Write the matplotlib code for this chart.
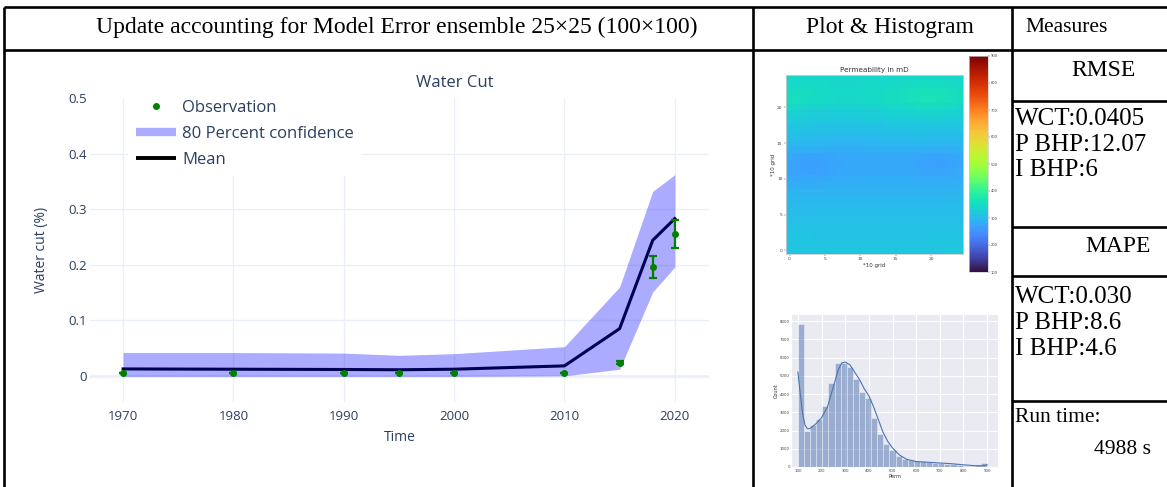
import numpy as np
import matplotlib
matplotlib.use("Agg")
import matplotlib.pyplot as plt
from matplotlib.lines import Line2D

W, H, DPI = 1167, 487, 100

# ---------------- water cut history ----------------
years = [1970, 1980, 1990, 1995, 2000, 2010, 2015, 2018, 2020]
obs_wct = [0.005, 0.005, 0.005, 0.005, 0.005, 0.005, 0.024, 0.196, 0.255]
obs_err = [0.0005, 0.0005, 0.0005, 0.0005, 0.0005, 0.0005, 0.0024, 0.0196, 0.0255]
mean_wct = [0.0125, 0.012, 0.0115, 0.011, 0.012, 0.018, 0.085, 0.244, 0.283]
p90_wct = [0.042, 0.042, 0.041, 0.037, 0.040, 0.0525, 0.160, 0.332, 0.362]
p10_wct = [-0.001, -0.001, -0.001, -0.001, -0.001, 0.0, 0.012, 0.151, 0.196]
year_ticks = [1970, 1980, 1990, 2000, 2010, 2020]
wct_ticks = [0, 0.1, 0.2, 0.3, 0.4, 0.5]
wct_tick_labels = ["0", "0.1", "0.2", "0.3", "0.4", "0.5"]

# ---------------- permeability field (mD), top row first ----------------
perm_field = [
    [341,341,342,342,342,341,341,340,340,340,341,341,342,342,342,343,343,344,344,345,345,344,344,343,343],
    [345,346,346,345,345,344,343,343,343,343,344,344,345,345,346,347,348,349,350,351,351,350,349,348,347],
    [353,353,352,350,348,347,346,345,345,345,346,347,348,349,351,353,355,357,359,361,361,359,357,354,352],
    [355,354,352,349,347,345,344,343,343,343,344,345,346,348,350,353,356,359,362,364,364,362,359,355,352],
    [345,344,342,340,338,337,336,335,335,335,336,337,338,340,342,344,346,348,350,351,351,350,348,345,343],
    [332,331,330,328,327,326,325,325,325,325,326,327,328,329,331,332,333,334,335,336,336,335,334,333,332],
    [324,323,322,321,320,319,318,318,318,318,319,320,320,321,322,323,324,325,325,326,326,325,324,323,323],
    [316,315,314,313,312,311,311,310,310,310,311,311,312,312,313,314,314,315,315,316,316,315,315,314,314],
    [308,307,306,305,304,303,302,302,302,302,302,303,303,304,304,305,305,306,306,306,306,306,305,305,305],
    [299,298,297,296,295,294,294,293,293,293,293,294,294,295,295,296,296,296,297,297,296,296,296,296,296],
    [288,287,286,285,285,284,284,284,284,284,284,285,285,285,286,286,286,286,286,285,285,285,286,287,288],
    [276,274,272,271,271,272,274,276,277,277,277,277,277,277,278,278,278,277,276,274,272,271,272,275,278],
    [272,269,267,266,267,269,272,274,275,275,275,275,275,276,276,276,276,275,273,271,269,268,270,273,276],
    [274,271,269,268,269,271,274,276,277,277,277,277,278,278,278,278,278,277,276,274,272,272,273,276,279],
    [280,278,277,276,277,278,280,281,282,282,282,282,282,283,283,283,283,282,281,280,279,279,280,282,284],
    [286,285,284,284,284,285,286,286,287,287,287,287,287,287,287,287,287,286,286,285,285,285,286,287,288],
    [293,292,292,291,291,292,292,293,293,293,293,293,293,293,293,293,292,292,292,292,292,292,293,293,294],
    [298,297,297,297,297,297,297,297,298,298,298,298,298,298,297,297,297,297,297,297,297,297,298,298,299],
    [302,302,301,301,301,301,301,302,302,302,302,302,302,302,301,301,301,301,301,301,301,302,302,302,303],
    [305,305,305,305,305,305,305,305,305,305,305,305,305,305,305,305,305,304,304,304,305,305,305,306,306],
    [308,308,307,307,307,307,307,307,307,307,307,307,307,307,307,307,307,307,307,307,307,307,308,308,308],
    [311,311,311,311,310,310,310,310,310,310,310,310,310,310,310,310,310,310,310,310,310,311,311,311,312],
    [313,313,313,313,312,312,312,312,312,312,312,312,312,312,312,312,312,312,312,312,313,313,313,313,314],
    [316,316,316,315,315,315,315,315,315,315,315,315,315,315,315,315,315,315,315,315,315,316,316,316,317],
    [318,318,318,318,318,318,318,318,318,318,318,318,318,318,318,318,318,318,318,318,318,318,319,319,319],
]

# ---------------- ensemble permeability histogram ----------------
perm_bin_lo, perm_bin_hi = 100, 900
perm_counts = [7850, 1970, 2280, 2650, 3340, 4600, 5720, 5720, 5480, 4840, 4110,
               3780, 2700, 1830, 1280, 950, 600, 420, 365, 310, 310, 255, 220,
               200, 180, 146, 110, 75, 60, 90, 220]
kde_perm = [100, 110, 120, 130, 140, 150, 160, 175, 200, 225, 250, 270, 285, 300,
            320, 340, 360, 380, 400, 420, 440, 460, 480, 500, 530, 560, 600, 650,
            700, 750, 800, 850, 880, 900]
kde_count = [5200, 4000, 2900, 2300, 2100, 2100, 2200, 2350, 2700, 3300, 4400, 5300,
             5700, 5750, 5600, 5200, 4800, 4300, 3900, 3300, 2600, 1900, 1400, 1050,
             650, 420, 300, 260, 220, 180, 120, 70, 70, 120]

# ---------------- measures column ----------------
measure_head = "Measures"
rmse_lines = ["WCT:0.0405", "P BHP:12.07", "I BHP:6"]
mape_lines = ["WCT:0.030", "P BHP:8.6", "I BHP:4.6"]
run_time_text = ["Run time:", "4988 s"]

fig = plt.figure(figsize=(W / DPI, H / DPI), dpi=DPI)


def px_axes(x0, y0, x1, y1, **kw):
    return fig.add_axes([x0 / W, 1 - y1 / H, (x1 - x0) / W, (y1 - y0) / H], **kw)


# ---------- table frame and texts ----------
tab = fig.add_axes([0, 0, 1, 1])
tab.set_xlim(0, W)
tab.set_ylim(H, 0)
tab.axis("off")
lw_tab = 1.9
for y in (7, 50):
    tab.plot([4, W], [y, y], color="black", lw=lw_tab, solid_capstyle="butt")
for x in (4, 753, 1012):
    tab.plot([x, x], [7, H], color="black", lw=lw_tab, solid_capstyle="butt")
for y in (101, 227, 276, 401):
    tab.plot([1012, W], [y, y], color="black", lw=lw_tab, solid_capstyle="butt")

serif = dict(family="Liberation Serif", color="black")
tab.text(397, 27, "Update accounting for Model Error ensemble 25\u00d725 (100\u00d7100)",
         ha="center", va="center", fontsize=17, **serif)
tab.text(890, 27, "Plot & Histogram", ha="center", va="center", fontsize=17, **serif)
tab.text(1025, 27, measure_head, ha="left", va="center", fontsize=15.5, **serif)
tab.text(1103, 71, "RMSE", ha="center", va="center", fontsize=17, **serif)
for yy, s in zip((119, 145, 170), rmse_lines):
    tab.text(1015, yy, s, ha="left", va="center", fontsize=18, **serif)
tab.text(1118, 246, "MAPE", ha="center", va="center", fontsize=17, **serif)
for yy, s in zip((297, 323, 349), mape_lines):
    tab.text(1015, yy, s, ha="left", va="center", fontsize=18, **serif)
tab.text(1015, 417, run_time_text[0], ha="left", va="center", fontsize=15.5, **serif)
tab.text(1151, 449, run_time_text[1], ha="right", va="center", fontsize=15.5, **serif)

# ---------- water cut chart ----------
txt_c = "#2a3f5f"
grid_c = "#EBF0F8"
ax = px_axes(90, 98, 709, 402)
ax.set_facecolor("white")
for sp in ax.spines.values():
    sp.set_visible(False)
ax.set_xlim(1967.0, 2023.1)
ax.set_ylim(-0.047, 0.5)
ax.set_xticks(year_ticks)
ax.set_yticks(wct_ticks)
ax.set_yticklabels(wct_tick_labels)
ax.tick_params(length=0, labelsize=9.5, labelcolor=txt_c, pad=2)
ax.tick_params(axis="x", pad=6)
for lab in ax.get_xticklabels() + ax.get_yticklabels():
    lab.set_family("Open Sans")
ax.grid(True, color=grid_c, lw=1)
ax.set_axisbelow(True)
ax.get_ygridlines()[-1].set_visible(False)
ax.axhline(0, color=grid_c, lw=2, zorder=0.5)

ax.plot(years, mean_wct, color="black", lw=2.2, zorder=2)
ax.fill_between(years, p10_wct, p90_wct, color=(0, 0, 1), alpha=0.33, lw=0, zorder=3)
ax.errorbar(years, obs_wct, yerr=obs_err, fmt="o", color="green", ms=4,
            elinewidth=1.6, capsize=3, capthick=1.6, zorder=4)

ax.text(455, 83, "Water Cut", transform=tab.transData, ha="center", va="center",
        fontsize=12, color=txt_c, family="Open Sans")
ax.set_xlabel("Time", fontsize=10, color=txt_c, family="Open Sans", labelpad=5)
ax.set_ylabel("Water cut (%)", fontsize=10, color=txt_c, family="Open Sans", labelpad=14)

handles = [
    Line2D([], [], ls="none", marker="o", ms=4, color="green"),
    Line2D([], [], color=(0, 0, 1), alpha=0.33, lw=6, solid_capstyle="butt"),
    Line2D([], [], color="black", lw=2.8, solid_capstyle="butt"),
]
leg = ax.legend(handles, ["Observation", "80 Percent confidence", "Mean"],
                loc="upper left", bbox_to_anchor=((128 - 90) / 619, 1 + 6 / 304),
                borderaxespad=0, frameon=True, fancybox=False, framealpha=1,
                facecolor="white", edgecolor="none",
                prop=dict(family="Open Sans", size=12),
                labelcolor=txt_c, handlelength=2.4, handletextpad=0.4,
                borderpad=0.45, labelspacing=0.62)

# ---------- permeability map ----------
ax_h = px_axes(786, 75, 963, 254)
im = ax_h.imshow(perm_field, cmap="turbo", vmin=100, vmax=900, origin="upper",
                 extent=(-0.5, 24.5, -0.5, 24.5), aspect="auto",
                 interpolation="nearest")
ax_h.set_xticks([0, 5, 10, 15, 20])
ax_h.set_yticks([0, 5, 10, 15, 20])
ax_h.tick_params(labelsize=3.2, length=1.5, width=0.3, pad=1, colors="#444444")
for sp in ax_h.spines.values():
    sp.set_color("#cccccc")
    sp.set_linewidth(0.6)
ax_h.set_title("Permeability in mD", fontsize=5.2, pad=2, color="#333333")
ax_h.set_xlabel("*10 grid", fontsize=4, labelpad=1, color="#333333")
ax_h.set_ylabel("*10 grid", fontsize=4, labelpad=1, color="#333333")

ax_cb = px_axes(969, 56, 988, 272)
cb = fig.colorbar(im, cax=ax_cb, ticks=list(range(100, 1000, 100)))
cb.ax.tick_params(labelsize=2.6, length=1.2, width=0.3, pad=1, colors="#444444")
cb.outline.set_edgecolor("#cccccc")
cb.outline.set_linewidth(0.5)

# ---------- permeability histogram ----------
ax_p = px_axes(792, 315, 998, 467)
ax_p.set_facecolor("#EAEAF2")
for sp in ax_p.spines.values():
    sp.set_visible(False)
edges = np.linspace(perm_bin_lo, perm_bin_hi, len(perm_counts) + 1)
ax_p.bar(edges[:-1], perm_counts, width=np.diff(edges), align="edge",
         color="#4C72B0", alpha=0.5, edgecolor="white", linewidth=0.5, zorder=2)
ax_p.plot(kde_perm, kde_count, color="#4C72B0", lw=0.8, zorder=3)
ax_p.set_xlim(75, 946)
ax_p.set_ylim(0, 8330)
ax_p.set_xticks(range(100, 1000, 100))
ax_p.set_yticks(range(0, 9000, 1000))
ax_p.grid(True, color="white", lw=0.8)
ax_p.set_axisbelow(True)
ax_p.tick_params(labelsize=2.8, length=0, pad=1.5, colors="#444444")
ax_p.set_xlabel("Perm", fontsize=3.6, labelpad=0.5, color="#333333")
ax_p.set_ylabel("Count", fontsize=3.6, labelpad=1, color="#333333")

fig.savefig("out.png", dpi=DPI)
